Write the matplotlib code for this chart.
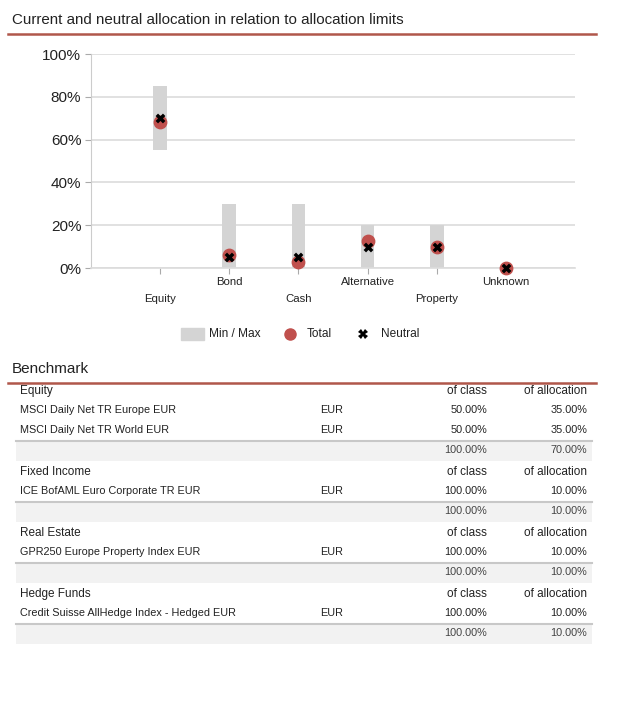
import matplotlib
matplotlib.use("Agg")
import matplotlib.pyplot as plt
from matplotlib.patches import Rectangle
from matplotlib.lines import Line2D

plt.rcParams['font.family'] = ['Liberation Sans', 'DejaVu Sans']

W, H = 623, 705

# chart data
categories = ["Equity", "Bond", "Cash", "Alternative", "Property", "Unknown"]
range_min = [55, 0, 0, 0, 0, None]
range_max = [85, 30, 30, 20, 20, None]
total = [68, 6, 3, 12.5, 10, 0]
neutral = [70, 5, 5, 10, 10, 0]

# benchmark table data
groups = ["Equity", "Fixed Income", "Real Estate", "Hedge Funds"]
group_indices = [
    ["MSCI Daily Net TR Europe EUR", "MSCI Daily Net TR World EUR"],
    ["ICE BofAML Euro Corporate TR EUR"],
    ["GPR250 Europe Property Index EUR"],
    ["Credit Suisse AllHedge Index - Hedged EUR"],
]
group_currency = [["EUR", "EUR"], ["EUR"], ["EUR"], ["EUR"]]
group_of_class = [["50.00%", "50.00%"], ["100.00%"], ["100.00%"], ["100.00%"]]
group_of_alloc = [["35.00%", "35.00%"], ["10.00%"], ["10.00%"], ["10.00%"]]
group_total_class = ["100.00%", "100.00%", "100.00%", "100.00%"]
group_total_alloc = ["70.00%", "10.00%", "10.00%", "10.00%"]

RED_LINE = "#b0574a"
MARK_RED = "#c0504d"
BAR_GREY = "#d4d4d4"
TEXT = "#222222"


def fx(px):
    return px / W


def fy(py):
    return 1 - py / H


fig = plt.figure(figsize=(W / 100, H / 100), dpi=100)

# title + rule
fig.text(fx(12), fy(20), "Current and neutral allocation in relation to allocation limits",
         fontsize=10.9, color=TEXT, va="center", ha="left")
fig.add_artist(Line2D([fx(8), fx(596)], [fy(34), fy(34)], color=RED_LINE, lw=1.8))

# chart
ax = fig.add_axes([fx(91), fy(268), fx(575) - fx(91), fy(54) - fy(268)])
xs = list(range(1, len(categories) + 1))
for x, lo, hi in zip(xs, range_min, range_max):
    if lo is None:
        continue
    ax.bar(x, hi - lo, bottom=lo, width=0.2, color=BAR_GREY, zorder=2)
ax.scatter(xs, total, s=80, color=MARK_RED, zorder=3, clip_on=False)
ax.scatter(xs, neutral, s=50, marker="X", color="black", linewidths=0, zorder=4, clip_on=False)

ax.set_xlim(0, 7)
ax.set_ylim(0, 100)
ax.set_yticks([0, 20, 40, 60, 80, 100])
ax.set_yticklabels(["0%", "20%", "40%", "60%", "80%", "100%"], fontsize=11, color=TEXT)
ax.yaxis.grid(True, color="#dcdcdc", lw=1.2, zorder=0)
ax.set_axisbelow(True)
ax.set_xticks(xs)
ax.set_xticklabels([])
ax.tick_params(axis="y", length=4, color="#aaaaaa", pad=3)
ax.tick_params(axis="x", length=4, color="#aaaaaa")
for s in ["top", "right"]:
    ax.spines[s].set_visible(False)
ax.spines["left"].set_color("#cccccc")
ax.spines["bottom"].set_color("#dcdcdc")
ax.spines["bottom"].set_linewidth(1.2)
for i, (x, name) in enumerate(zip(xs, categories)):
    off = 31 if i % 2 == 0 else 14  # pixels below the axis
    ax.annotate(name, (x, 0), xytext=(0, -off * 0.72), textcoords="offset points",
                ha="center", va="center", fontsize=8.2, color=TEXT, annotation_clip=False)

# legend
ly = fy(334)
fig.add_artist(Rectangle((fx(181), fy(340)), fx(23), fy(328) - fy(340), color=BAR_GREY))
fig.text(fx(209), ly, "Min / Max", fontsize=8.6, color=TEXT, va="center")
fig.add_artist(Line2D([fx(290)], [ly], marker="o", markersize=8, color=MARK_RED, lw=0))
fig.text(fx(307), ly, "Total", fontsize=8.6, color=TEXT, va="center")
fig.add_artist(Line2D([fx(363)], [ly], marker="X", markersize=7, color="black",
                      markeredgewidth=0, lw=0))
fig.text(fx(381), ly, "Neutral", fontsize=8.6, color=TEXT, va="center")

# benchmark table
fig.text(fx(12), fy(369), "Benchmark", fontsize=11, color=TEXT, va="center")
fig.add_artist(Line2D([fx(8), fx(596)], [fy(383), fy(383)], color=RED_LINE, lw=1.8))

y = 391
for g, names, curs, ocs, oas, tc, ta in zip(groups, group_indices, group_currency,
                                             group_of_class, group_of_alloc,
                                             group_total_class, group_total_alloc):
    fig.text(fx(20), fy(y), g, fontsize=8.5, color=TEXT, va="center")
    fig.text(fx(487), fy(y), "of class", fontsize=8.5, color=TEXT, va="center", ha="right")
    fig.text(fx(587), fy(y), "of allocation", fontsize=8.5, color=TEXT, va="center", ha="right")
    y += 19
    for n, c, oc, oa in zip(names, curs, ocs, oas):
        fig.text(fx(20), fy(y), n, fontsize=7.8, color=TEXT, va="center")
        fig.text(fx(320), fy(y), c, fontsize=7.8, color=TEXT, va="center")
        fig.text(fx(487), fy(y), oc, fontsize=7.8, color=TEXT, va="center", ha="right")
        fig.text(fx(587), fy(y), oa, fontsize=7.8, color=TEXT, va="center", ha="right")
        y += 20
    # total row
    top = y - 9
    fig.add_artist(Rectangle((fx(16), fy(top + 20)), fx(592) - fx(16), fy(top) - fy(top + 20),
                             color="#f2f2f2", lw=0))
    fig.add_artist(Line2D([fx(16), fx(592)], [fy(top), fy(top)], color="#c8c8c8", lw=1.5))
    fig.text(fx(487), fy(y), tc, fontsize=7.8, color="#444444", va="center", ha="right")
    fig.text(fx(587), fy(y), ta, fontsize=7.8, color="#444444", va="center", ha="right")
    y += 22

fig.savefig("out.png", dpi=100)
